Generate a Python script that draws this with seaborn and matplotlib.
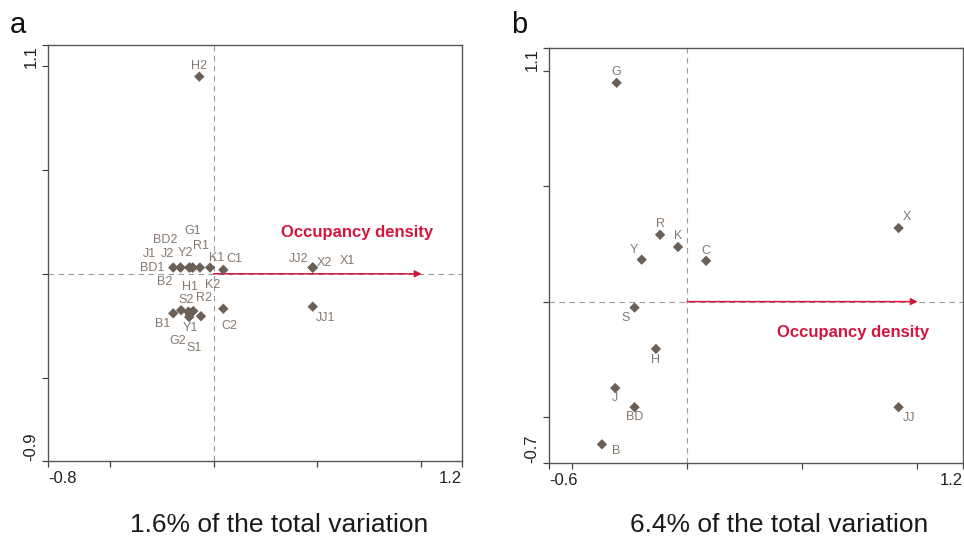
import numpy as np
import pandas as pd
import seaborn as sns
import matplotlib.pyplot as plt

# panel a: site scores, two surveys per site
sites_a = ['H2', 'BD1', 'B2', 'J1', 'BD2', 'J2', 'Y2', 'G1', 'R1', 'K1', 'C1',
           'JJ2', 'X2', 'X1', 'JJ1', 'C2', 'B1', 'S2', 'H1', 'Y1', 'G2', 'S1', 'R2', 'K2']
axis1_a = [-0.069, -0.195, -0.160, -0.160, -0.117, -0.117, -0.101, -0.101, -0.066, -0.017, 0.047,
           0.479, 0.479, 0.479, 0.479, 0.047, -0.195, -0.157, -0.122, -0.115, -0.111, -0.118, -0.098, -0.061]
axis2_a = [0.948, 0.030, 0.030, 0.030, 0.030, 0.030, 0.030, 0.030, 0.030, 0.030, 0.019,
           0.030, 0.030, 0.030, -0.158, -0.168, -0.190, -0.175, -0.182, -0.195, -0.188, -0.208, -0.179, -0.204]

# panel b: site scores, pooled surveys
sites_b = ['G', 'R', 'K', 'Y', 'C', 'X', 'S', 'H', 'J', 'BD', 'B', 'JJ']
axis1_b = [-0.306, -0.117, -0.039, -0.197, 0.083, 0.920, -0.228, -0.135, -0.312, -0.228, -0.370, 0.920]
axis2_b = [0.949, 0.290, 0.237, 0.182, 0.177, 0.319, -0.026, -0.205, -0.375, -0.458, -0.619, -0.458]

env_name = 'Occupancy density'
env_a = (1.005, 0.0)
env_b = (1.003, 0.0)
explained = ['1.6% of the total variation', '6.4% of the total variation']

# label offsets in pixels (dx right, dy down)
label_off_a = {
    'H2': (0, -10.7), 'BD1': (-20.6, 0), 'B2': (-15.5, 14.2), 'J1': (-31.2, -13.5),
    'BD2': (-24.4, -27.5), 'J2': (-21.7, -13.5), 'Y2': (-7.7, -14.1), 'G1': (0, -36.8),
    'R1': (1, -21.8), 'K1': (6.6, -9.1), 'C1': (10.7, -10.8), 'JJ2': (-14.5, -8.5),
    'X2': (11.5, -4.1), 'X1': (34.5, -6.1), 'JJ1': (12.9, 11.6), 'C2': (5.7, 17.2),
    'B1': (-10.5, 11), 'S2': (4.9, -10.5), 'H1': (1.7, -25.0), 'Y1': (0.9, 13.9),
    'G2': (-12.9, 28.1), 'S1': (4.8, 30.6), 'R2': (10.7, -12.8), 'K2': (11.3, -31.2),
}
label_off_b = {
    'G': (0, -10.4), 'R': (0, -10.7), 'K': (0, -10.6), 'Y': (-8.3, -10), 'C': (0, -10.3),
    'X': (8, -10.6), 'S': (-8.6, 10.7), 'H': (0, 10.7), 'J': (0, 10.3), 'BD': (0, 10),
    'B': (14, 6.7), 'JJ': (10, 10.6),
}

sns.set_style('white')
plt.rcParams['font.family'] = ['Liberation Sans', 'DejaVu Sans']

pt_col = '#6b5f56'
lab_col = '#85796f'
red = '#d4163c'
dash_col = '#9c9c9c'


def draw_panel(ax, names, xs, ys, offsets, env, env_text_xy, xlim, ylim):
    df = pd.DataFrame({'x': xs, 'y': ys, 'site': names})
    ax.axhline(0, color=dash_col, lw=0.8, ls=(0, (5, 4)), zorder=1)
    ax.axvline(0, color=dash_col, lw=0.8, ls=(0, (5, 4)), zorder=1)
    ax.annotate('', xy=env, xytext=(0, 0),
                arrowprops=dict(arrowstyle='-|>', color=red, lw=1.1,
                                shrinkA=0, shrinkB=0, mutation_scale=10),
                zorder=3)
    sns.scatterplot(data=df, x='x', y='y', marker='D', s=28, color=pt_col,
                    edgecolor='none', legend=False, ax=ax, zorder=4)
    for n, x, y in zip(names, xs, ys):
        dx, dy = offsets[n]
        ax.annotate(n, (x, y), xytext=(dx, -dy), textcoords='offset pixels',
                    ha='center', va='center', fontsize=9, color=lab_col)
    ax.text(env_text_xy[0], env_text_xy[1], env_name, color=red, fontsize=12,
            fontweight='bold', ha='center', va='center')

    ax.set_xlim(xlim)
    ax.set_ylim(ylim)
    ax.set_xticks([xlim[0], -0.5, 0, 0.5, 1.0, xlim[1]])
    ax.set_xticklabels([f'{xlim[0]:g}', '', '', '', '', f'{xlim[1]:g}'])
    ax.set_yticks([ylim[0], -0.5, 0, 0.5, 1.0, ylim[1]])
    ax.set_yticklabels([f'{ylim[0]:g}', '', '', '', '', f'{ylim[1]:g}'])
    xl = ax.get_xticklabels()
    xl[0].set_ha('left')
    xl[-1].set_ha('right')
    yl = ax.get_yticklabels()
    for t in yl:
        t.set_rotation(90)
    yl[0].set_va('bottom')
    yl[-1].set_va('top')
    ax.tick_params(bottom=True, left=True, direction='out', length=4, width=0.9,
                   colors='#444444', labelcolor='#222222', labelsize=12, pad=3)
    ax.set_xlabel('')
    ax.set_ylabel('')
    for s in ax.spines.values():
        s.set_visible(True)
        s.set_color('#555555')
        s.set_linewidth(1.0)


fig = plt.figure(figsize=(9.64, 5.39), dpi=100)
ax_a = fig.add_axes([48 / 964, 78 / 539, 414 / 964, 416 / 539])
ax_b = fig.add_axes([549 / 964, 76 / 539, 414 / 964, 415 / 539])

draw_panel(ax_a, sites_a, axis1_a, axis2_a, label_off_a, env_a, (0.693, 0.20),
           (-0.8, 1.2), (-0.9, 1.1))
draw_panel(ax_b, sites_b, axis1_b, axis2_b, label_off_b, env_b, (0.724, -0.135),
           (-0.6, 1.2), (-0.7, 1.1))

fig.text(10 / 964, 1 - 25 / 539, 'a', fontsize=21, ha='left', va='center', color='#111111')
fig.text(511 / 964, 1 - 25 / 539, 'b', fontsize=21, ha='left', va='center', color='#111111')
fig.text(279 / 964, 1 - 525 / 539, explained[0], fontsize=19, ha='center', va='center', color='#1a1a1a')
fig.text(779 / 964, 1 - 525 / 539, explained[1], fontsize=19, ha='center', va='center', color='#1a1a1a')

fig.savefig('out.png', dpi=100)
